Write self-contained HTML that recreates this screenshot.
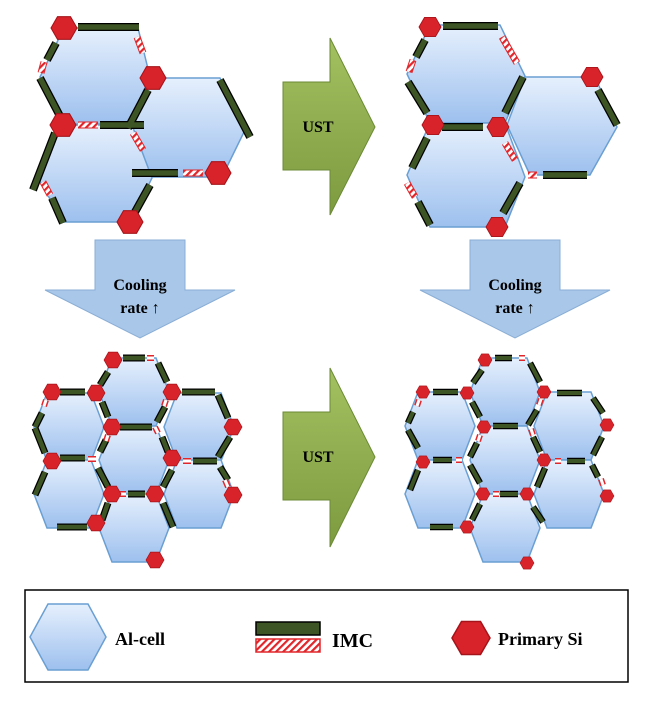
<!DOCTYPE html>
<html><head><meta charset="utf-8"><style>body{margin:0;background:#fff}svg{display:block}text{font-family:"Liberation Serif",serif;font-weight:bold}</style></head><body>
<svg width="646" height="701" viewBox="0 0 646 701" xmlns="http://www.w3.org/2000/svg" xmlns:xlink="http://www.w3.org/1999/xlink">
<defs>
<linearGradient id="hg" x1="0" y1="0" x2="0" y2="1"><stop offset="0" stop-color="#e6f0fd"/><stop offset="1" stop-color="#9dc0ee"/></linearGradient>
<linearGradient id="gg" x1="0" y1="0" x2="0" y2="1"><stop offset="0" stop-color="#a3c160"/><stop offset="1" stop-color="#7d9b3f"/></linearGradient>
<pattern id="hp" width="5" height="5" patternUnits="userSpaceOnUse" patternTransform="rotate(45)"><rect width="5" height="5" fill="#fff"/><rect width="2.2" height="5" fill="#e0262b"/></pattern>
<polygon id="si" points="-1,0 -0.5,-0.87 0.5,-0.87 1,0 0.5,0.87 -0.5,0.87" fill="#d8232a" stroke="#a5141a" stroke-width="0.08"/>
<polygon id="sh" points="-35,0 -22,-34 22,-34 35,0 22,34 -22,34" fill="url(#hg)" stroke="#6a9fd3" stroke-width="1.5"/>

<g id="imcTL">
<line x1="78" y1="27" x2="139" y2="27"/><line x1="56" y1="43" x2="47" y2="60"/><line x1="40" y1="78" x2="62" y2="120"/>
<line x1="148" y1="90" x2="128" y2="128"/><line x1="100" y1="125" x2="144" y2="125"/><line x1="220" y1="80" x2="250" y2="137"/>
<line x1="55" y1="133" x2="33" y2="190"/><line x1="52" y1="198" x2="63" y2="223"/><line x1="132" y1="173" x2="178" y2="173"/><line x1="150" y1="185" x2="135" y2="212"/>
</g>
<g id="hatTL">
<line x1="137" y1="37" x2="143" y2="53"/><line x1="44" y1="62" x2="41" y2="73"/><line x1="78" y1="125" x2="98" y2="125"/>
<line x1="133" y1="133" x2="143" y2="150"/><line x1="183" y1="173" x2="203" y2="173"/><line x1="43" y1="182" x2="50" y2="195"/>
</g>
<g id="imcTR">
<line x1="443" y1="26" x2="498" y2="26"/><line x1="425" y1="40" x2="416" y2="57"/><line x1="408" y1="82" x2="427" y2="113"/>
<line x1="523" y1="77" x2="505" y2="113"/><line x1="442" y1="127" x2="483" y2="127"/><line x1="598" y1="90" x2="617" y2="125"/>
<line x1="427" y1="138" x2="412" y2="168"/><line x1="418" y1="202" x2="430" y2="225"/><line x1="520" y1="183" x2="503" y2="213"/><line x1="543" y1="175" x2="587" y2="175"/>
</g>
<g id="hatTR">
<line x1="502" y1="37" x2="517" y2="63"/><line x1="413" y1="60" x2="409" y2="72"/><line x1="505" y1="143" x2="515" y2="160"/>
<line x1="528" y1="175" x2="537" y2="175"/><line x1="407" y1="183" x2="415" y2="197"/>
</g>
<g id="imcBL">
<line x1="123" y1="358" x2="145" y2="358"/><line x1="108" y1="372" x2="100" y2="385"/><line x1="60" y1="392" x2="85" y2="392"/>
<line x1="158" y1="363" x2="167" y2="382"/><line x1="182" y1="392" x2="215" y2="392"/><line x1="218" y1="395" x2="228" y2="418"/>
<line x1="42" y1="413" x2="35" y2="427"/><line x1="35" y1="428" x2="45" y2="453"/><line x1="102" y1="402" x2="108" y2="417"/>
<line x1="165" y1="407" x2="157" y2="422"/><line x1="120" y1="427" x2="152" y2="427"/><line x1="230" y1="437" x2="218" y2="457"/>
<line x1="60" y1="458" x2="85" y2="458"/><line x1="193" y1="461" x2="217" y2="461"/><line x1="162" y1="437" x2="168" y2="452"/>
<line x1="98" y1="468" x2="108" y2="487"/><line x1="172" y1="470" x2="163" y2="487"/><line x1="45" y1="472" x2="35" y2="495"/>
<line x1="128" y1="494" x2="145" y2="494"/><line x1="108" y1="503" x2="102" y2="520"/><line x1="163" y1="503" x2="173" y2="527"/>
<line x1="57" y1="527" x2="87" y2="527"/><line x1="220" y1="467" x2="228" y2="480"/><line x1="106" y1="440" x2="100" y2="452"/>
</g>
<g id="hatBL">
<line x1="147" y1="358" x2="154" y2="358"/><line x1="46" y1="400" x2="44" y2="406"/><line x1="166" y1="400" x2="164" y2="406"/>
<line x1="108" y1="435" x2="106" y2="441"/><line x1="155" y1="427" x2="158" y2="433"/><line x1="88" y1="459" x2="96" y2="459"/>
<line x1="183" y1="461" x2="191" y2="461"/><line x1="120" y1="494" x2="126" y2="494"/><line x1="225" y1="480" x2="228" y2="487"/>
</g>
<g id="imcBR">
<line x1="495" y1="358" x2="512" y2="358"/><line x1="482" y1="370" x2="473" y2="383"/><line x1="433" y1="392" x2="458" y2="392"/>
<line x1="530" y1="363" x2="540" y2="382"/><line x1="557" y1="393" x2="582" y2="393"/><line x1="593" y1="398" x2="603" y2="413"/>
<line x1="413" y1="412" x2="408" y2="423"/><line x1="408" y1="430" x2="418" y2="448"/><line x1="472" y1="402" x2="480" y2="417"/>
<line x1="537" y1="410" x2="528" y2="425"/><line x1="493" y1="426" x2="518" y2="426"/><line x1="477" y1="443" x2="470" y2="457"/>
<line x1="602" y1="437" x2="593" y2="455"/><line x1="533" y1="437" x2="540" y2="452"/><line x1="433" y1="460" x2="452" y2="460"/>
<line x1="567" y1="461" x2="585" y2="461"/><line x1="470" y1="465" x2="480" y2="483"/><line x1="545" y1="468" x2="537" y2="487"/>
<line x1="418" y1="470" x2="410" y2="490"/><line x1="500" y1="494" x2="518" y2="494"/><line x1="480" y1="504" x2="472" y2="520"/>
<line x1="533" y1="507" x2="543" y2="522"/><line x1="430" y1="527" x2="453" y2="527"/><line x1="592" y1="465" x2="598" y2="477"/>
</g>
<g id="hatBR">
<line x1="519" y1="358" x2="525" y2="358"/><line x1="419" y1="400" x2="417" y2="406"/><line x1="541" y1="399" x2="539" y2="405"/>
<line x1="480" y1="435" x2="478" y2="441"/><line x1="531" y1="429" x2="533" y2="435"/><line x1="456" y1="460" x2="462" y2="460"/>
<line x1="555" y1="461" x2="561" y2="461"/><line x1="493" y1="494" x2="499" y2="494"/><line x1="601" y1="479" x2="603" y2="485"/>
</g>
</defs>

<!-- top-left hexes -->
<g fill="url(#hg)" stroke="#6a9fd3" stroke-width="1.5">
<polygon points="128,125 152,78 220,78 245,130 222,177 150,177"/>
<polygon points="40,77 64,28 138,28 150,77 128,124 62,124"/>
<polygon points="38,178 62,125 132,125 152,178 130,222 63,222"/>
<polygon points="507,125 525,77 595,77 617,127 590,175 530,175"/>
<polygon points="407,74 430,25 500,25 525,76 505,123 430,123"/>
<polygon points="407,175 430,123 505,123 525,177 505,227 430,227"/>
</g>
<use xlink:href="#imcTL" stroke="#000" stroke-width="8"/><use xlink:href="#imcTL" stroke="#3d5424" stroke-width="5.5"/>
<use xlink:href="#hatTL" stroke="#e0262b" stroke-width="7"/><use xlink:href="#hatTL" stroke="url(#hp)" stroke-width="5"/>
<use xlink:href="#imcTR" stroke="#000" stroke-width="8"/><use xlink:href="#imcTR" stroke="#3d5424" stroke-width="5.5"/>
<use xlink:href="#hatTR" stroke="#e0262b" stroke-width="7"/><use xlink:href="#hatTR" stroke="url(#hp)" stroke-width="5"/>
<g>
<use xlink:href="#si" transform="translate(64,28) scale(13)"/><use xlink:href="#si" transform="translate(153,78) scale(13)"/>
<use xlink:href="#si" transform="translate(63,125) scale(13)"/><use xlink:href="#si" transform="translate(218,173) scale(13)"/>
<use xlink:href="#si" transform="translate(130,222) scale(13)"/>
<use xlink:href="#si" transform="translate(430,27) scale(11)"/><use xlink:href="#si" transform="translate(592,77) scale(11)"/>
<use xlink:href="#si" transform="translate(433,125) scale(11)"/><use xlink:href="#si" transform="translate(498,127) scale(11)"/>
<use xlink:href="#si" transform="translate(497,227) scale(11)"/>
</g>

<!-- bottom clusters -->
<g>
<use xlink:href="#sh" x="134" y="392"/><use xlink:href="#sh" x="69" y="427"/><use xlink:href="#sh" x="199" y="427"/>
<use xlink:href="#sh" x="134" y="460"/><use xlink:href="#sh" x="69" y="494"/><use xlink:href="#sh" x="199" y="494"/><use xlink:href="#sh" x="134" y="528"/>
<use xlink:href="#sh" x="505" y="392"/><use xlink:href="#sh" x="440" y="426"/><use xlink:href="#sh" x="569" y="426"/>
<use xlink:href="#sh" x="505" y="460"/><use xlink:href="#sh" x="440" y="494"/><use xlink:href="#sh" x="569" y="494"/><use xlink:href="#sh" x="505" y="528"/>
</g>
<use xlink:href="#imcBL" stroke="#000" stroke-width="7"/><use xlink:href="#imcBL" stroke="#3d5424" stroke-width="4.5"/>
<use xlink:href="#hatBL" stroke="#e0262b" stroke-width="6"/><use xlink:href="#hatBL" stroke="#fff" stroke-width="3"/>
<use xlink:href="#imcBR" stroke="#000" stroke-width="6.5"/><use xlink:href="#imcBR" stroke="#3d5424" stroke-width="4"/>
<use xlink:href="#hatBR" stroke="#e0262b" stroke-width="6"/><use xlink:href="#hatBR" stroke="#fff" stroke-width="3"/>
<g>
<use xlink:href="#si" transform="translate(113,360) scale(9)"/><use xlink:href="#si" transform="translate(52,392) scale(9)"/>
<use xlink:href="#si" transform="translate(96,393) scale(9)"/><use xlink:href="#si" transform="translate(172,392) scale(9)"/>
<use xlink:href="#si" transform="translate(112,427) scale(9)"/><use xlink:href="#si" transform="translate(233,427) scale(9)"/>
<use xlink:href="#si" transform="translate(52,461) scale(9)"/><use xlink:href="#si" transform="translate(172,458) scale(9)"/>
<use xlink:href="#si" transform="translate(112,494) scale(9)"/><use xlink:href="#si" transform="translate(155,494) scale(9)"/>
<use xlink:href="#si" transform="translate(233,495) scale(9)"/><use xlink:href="#si" transform="translate(96,523) scale(9)"/>
<use xlink:href="#si" transform="translate(155,560) scale(9)"/>
<use xlink:href="#si" transform="translate(485,360) scale(7)"/><use xlink:href="#si" transform="translate(423,392) scale(7)"/>
<use xlink:href="#si" transform="translate(467,393) scale(7)"/><use xlink:href="#si" transform="translate(544,392) scale(7)"/>
<use xlink:href="#si" transform="translate(484,427) scale(7)"/><use xlink:href="#si" transform="translate(607,425) scale(7)"/>
<use xlink:href="#si" transform="translate(423,462) scale(7)"/><use xlink:href="#si" transform="translate(544,460) scale(7)"/>
<use xlink:href="#si" transform="translate(483,494) scale(7)"/><use xlink:href="#si" transform="translate(527,494) scale(7)"/>
<use xlink:href="#si" transform="translate(607,496) scale(7)"/><use xlink:href="#si" transform="translate(467,527) scale(7)"/>
<use xlink:href="#si" transform="translate(527,563) scale(7)"/>
</g>

<!-- arrows -->
<polygon points="283,82 330,82 330,38 375,127 330,215 330,170 283,170" fill="url(#gg)" stroke="#6b8a34" stroke-width="1"/>
<text x="318" y="132" font-size="16" text-anchor="middle">UST</text>
<polygon points="283,412 330,412 330,368 375,457 330,547 330,500 283,500" fill="url(#gg)" stroke="#6b8a34" stroke-width="1"/>
<text x="318" y="462" font-size="16" text-anchor="middle">UST</text>
<polygon points="95,240 185,240 185,290 235,290 140,338 45,290 95,290" fill="#a9c7e8" stroke="#8aaed6" stroke-width="1"/>
<text x="140" y="290" font-size="16" text-anchor="middle">Cooling</text><text x="140" y="313" font-size="16" text-anchor="middle">rate ↑</text>
<polygon points="470,240 560,240 560,290 610,290 515,338 420,290 470,290" fill="#a9c7e8" stroke="#8aaed6" stroke-width="1"/>
<text x="515" y="290" font-size="16" text-anchor="middle">Cooling</text><text x="515" y="313" font-size="16" text-anchor="middle">rate ↑</text>

<!-- legend -->
<rect x="25" y="590" width="603" height="92" fill="#fff" stroke="#000" stroke-width="1.5"/>
<polygon points="30,637 48,604 88,604 106,637 88,670 48,670" fill="url(#hg)" stroke="#6a9fd3" stroke-width="1.5"/>
<text x="115" y="645" font-size="18">Al-cell</text>
<rect x="256" y="622" width="64" height="13" fill="#3d5424" stroke="#000" stroke-width="1.5"/>
<rect x="256" y="639" width="64" height="13" fill="url(#hp)" stroke="#e0262b" stroke-width="1.5"/>
<text x="332" y="647" font-size="20">IMC</text>
<use xlink:href="#si" transform="translate(471,638) scale(19)"/>
<text x="498" y="645" font-size="18">Primary Si</text>
</svg>
</body></html>
